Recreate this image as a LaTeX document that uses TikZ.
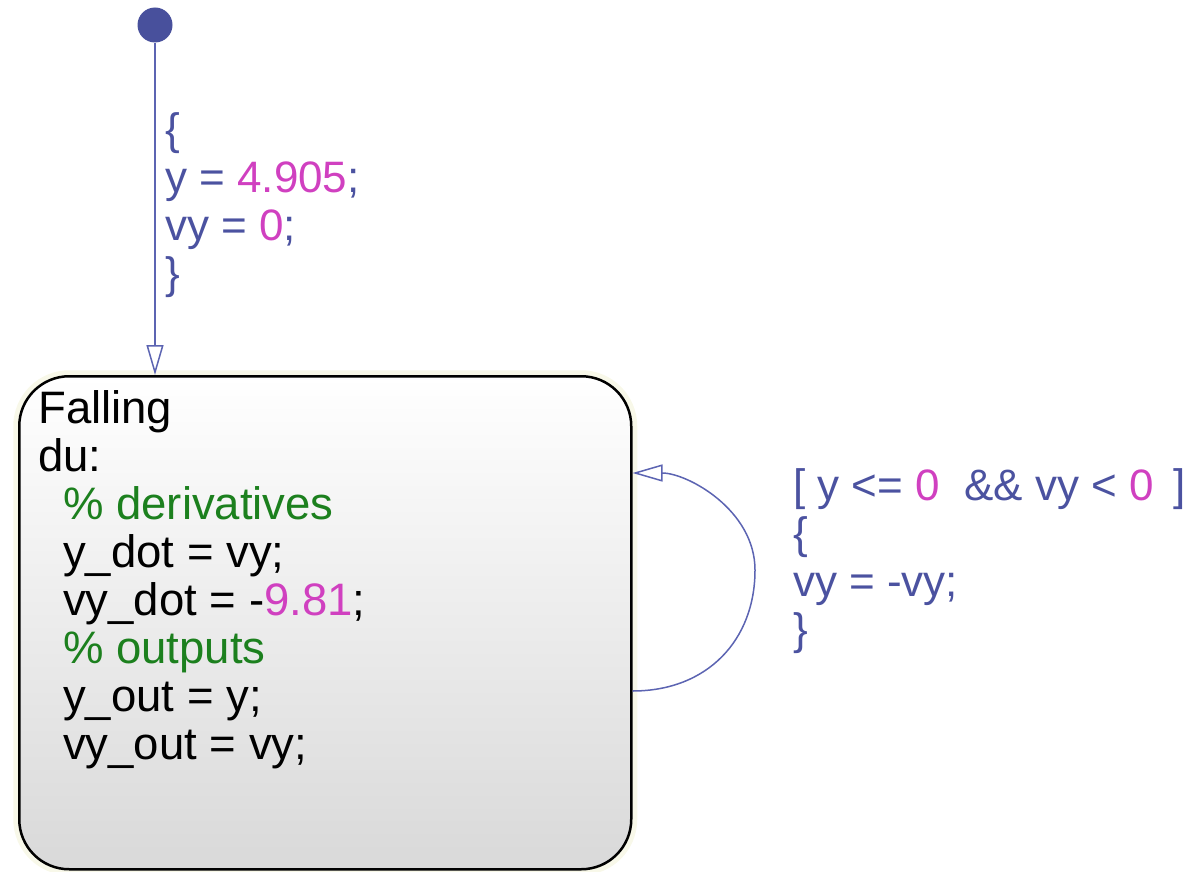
\documentclass[tikz,border=0pt]{standalone}
\usepackage{fontspec}
\setmainfont{Liberation Sans}
\usepackage{xcolor}
\usetikzlibrary{arrows.meta,positioning,calc}
\definecolor{sfblue}{RGB}{75,82,160}
\definecolor{sfnum}{RGB}{208,64,192}
\definecolor{sfgreen}{RGB}{28,128,30}
\definecolor{sfline}{RGB}{92,100,178}
\definecolor{sfdot}{RGB}{72,80,156}
\newcommand{\nm}[1]{\textcolor{sfnum}{#1}}
\newcommand{\cm}[1]{\textcolor{sfgreen}{#1}}
\newcommand{\ind}{\hspace*{25pt}}

\begin{document}
\begin{tikzpicture}[x=1pt,y=-1pt,>=Stealth,
  statebox/.style={draw=black,line width=2.5pt,rounded corners=50pt,top color=white,bottom color=gray!30,
    minimum width=612pt,minimum height=493pt,inner sep=0pt,
    preaction={draw=olive!6,line width=12pt}},
  code/.style={font=\fontsize{44}{48}\selectfont,align=left,inner sep=0pt},
  trans/.style={draw=sfline,line width=1.5pt,-{Triangle[open,length=30pt,width=17pt]}}]
  \useasboundingbox (0,0) rectangle (1196,872);
  \node[statebox,anchor=north west](falling)at(18,375){};
  \node[code,font=\fontsize{45.5}{48}\selectfont,anchor=base west](body)at(38,759){Falling\\du:\\
    \ind\cm{\% derivatives}\\\ind y\_dot = vy;\\\ind vy\_dot = -\nm{9.81};\\
    \ind\cm{\% outputs}\\\ind y\_out = y;\\\ind vy\_out = vy;};
  \node[circle,fill=sfdot,minimum size=35pt,inner sep=0pt](init)at(155,25){};
  \draw[trans] (init) -- (init |- falling.north);
  \node[code,text=sfblue,anchor=base west](initlbl)at(165,288){\{\\y = \nm{4.905};\\vy = \nm{0};\\\}};
  % self loop on the right
  \coordinate (loopout) at ($(falling.north east)+(0,316)$);
  \coordinate (loopin) at ($(falling.north east)+(0,98)$);
  \coordinate (loopmax) at (755,570);
  \draw[trans] (loopout) .. controls +(75,0) and +(0,70) .. (loopmax)
     .. controls +(0,-60) and +(55,0) .. (loopin);
  \node[code,text=sfblue,anchor=base west](looplbl)at(793,644){[ y <= \nm{0}\ \ \&\& vy < \nm{0} \,]\\\{\\vy = -vy;\\\}};
\end{tikzpicture}
\end{document}
